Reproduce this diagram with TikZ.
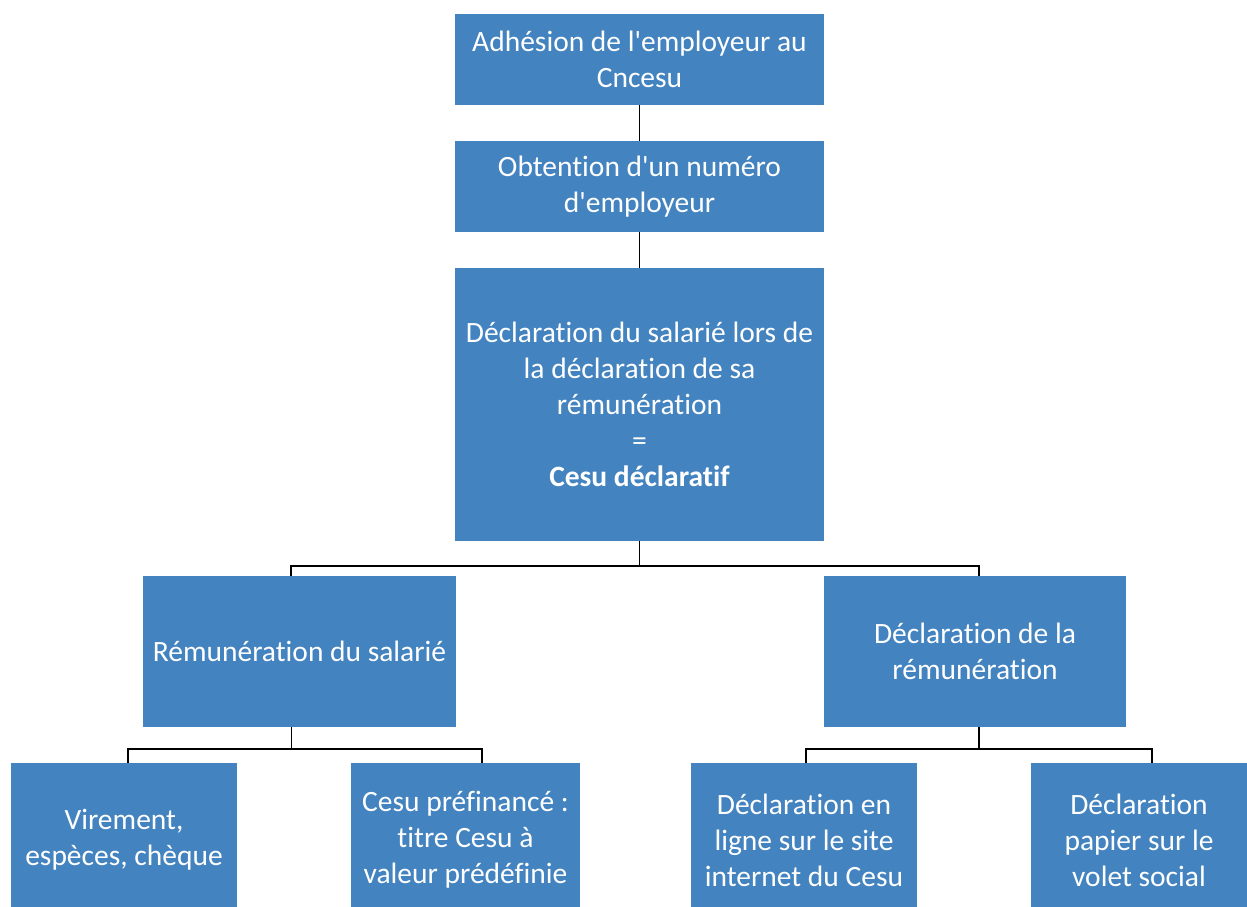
\documentclass[tikz,border=0pt]{standalone}
\usepackage{fontspec}
\setmainfont{Carlito}[Ligatures={TeXOff,NoCommon},RawFeature=-liga,RawFeature=-calt,RawFeature=-clig]
\definecolor{boxblue}{HTML}{4383BF}
\begin{document}
\begin{tikzpicture}[x=1pt,y=-1pt,
  box/.style={fill=boxblue,draw=none,text=white,align=center,inner sep=0pt,
    font=\fontsize{29.5}{36}\selectfont},
  conn/.style={draw=black,line width=1.8pt}]
\useasboundingbox (0,0) rectangle (1247,907);
\node[box,minimum width=369,minimum height=91] (b1) at (639.5,59.5) {Adhésion de l'employeur au\\Cncesu};
\node[box,minimum width=369,minimum height=91] (b2) at (639.5,186.5) {Obtention d'un numéro\\d'employeur};
\node[box,minimum width=369,minimum height=273] (b3) at (639.5,404.5) {Déclaration du salarié lors de\\la déclaration de sa\\rémunération\\=\\\textbf{Cesu déclaratif}};
\node[box,minimum width=313,minimum height=151] (b4) at (299.5,651.5) {Rémunération du salarié};
\node[box,minimum width=302,minimum height=151] (b5) at (975,651.5) {Déclaration de la\\rémunération};
\node[box,minimum width=226,minimum height=154] (b6) at (124,840) {Virement,\\espèces, chèque};
\node[box,minimum width=229,minimum height=154] (b7) at (465.5,840) {Cesu préfinancé :\\titre Cesu à\\valeur prédéfinie};
\node[box,minimum width=226,minimum height=154] (b8) at (804,840) {Déclaration en\\ligne sur le site\\internet du Cesu};
\node[box,minimum width=216,minimum height=154] (b9) at (1139,840) {Déclaration\\papier sur le\\volet social};
\draw[conn] (b1.south) -- (b2.north);
\draw[conn] (b2.south) -- (b3.north);
\draw[conn] (b3.south) -- ++(0,25) coordinate (j3);
\draw[conn] ([xshift=-8.5pt]b4.north) |- (j3) -| ([xshift=4pt]b5.north);
\draw[conn] ([xshift=-8pt]b4.south) -- ++(0,22) coordinate (j4);
\draw[conn] ([xshift=4pt]b6.north) |- (j4) -| ([xshift=16.5pt]b7.north);
\draw[conn] ([xshift=4pt]b5.south) -- ++(0,22) coordinate (j5);
\draw[conn] ([xshift=2pt]b8.north) |- (j5) -| ([xshift=13pt]b9.north);
\end{tikzpicture}
\end{document}
